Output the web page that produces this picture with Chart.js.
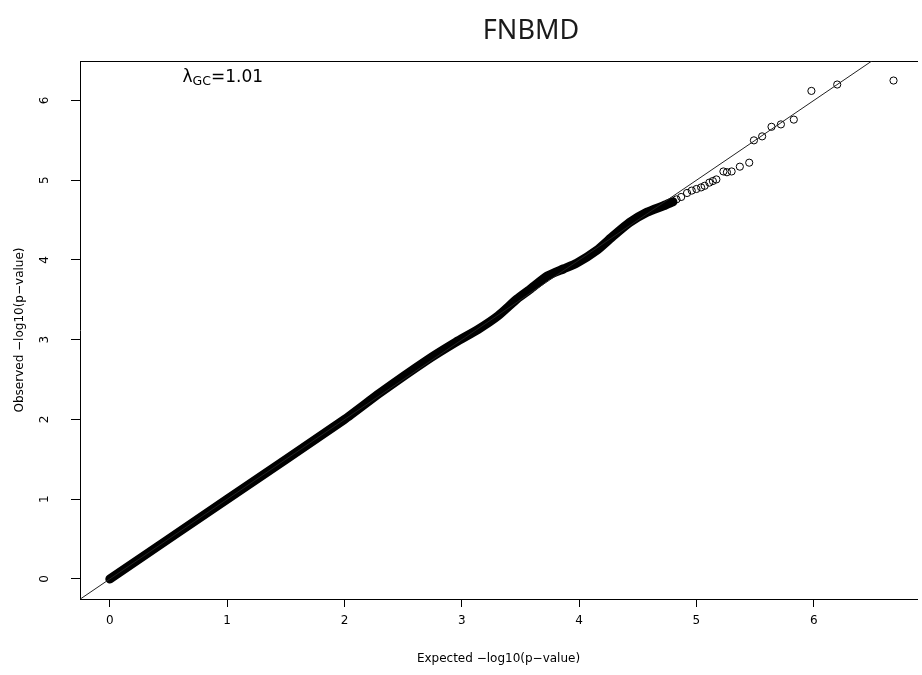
<!DOCTYPE html>
<html>
<head>
<meta charset="utf-8">
<title>FNBMD QQ plot</title>
<script src="https://cdn.jsdelivr.net/npm/chart.js@4.4.1/dist/chart.umd.min.js"></script>
<style>
  html, body { margin: 0; padding: 0; background: #fff; overflow: hidden; }
  #wrap { width: 922px; height: 675px; }
</style>
</head>
<body>
<div id="wrap"><canvas id="chart" width="922" height="675"></canvas></div>
<script>
var chartTitle = 'FNBMD';
var xTitle = 'Expected \u2212log10(p\u2212value)';
var yTitle = 'Observed \u2212log10(p\u2212value)';
var lambdaParts = ['\u03bb', 'GC', '=1.01'];
var xTicks = [0, 1, 2, 3, 4, 5, 6];
var yTicks = [0, 1, 2, 3, 4, 5, 6];

// dense part of the QQ curve (read along the middle of the black band)
var bandExpected = [0, 1, 2, 2.3, 2.7, 2.95, 3.14, 3.31, 3.47, 3.58, 3.73, 3.87, 3.98, 4.15, 4.29, 4.43, 4.58, 4.72, 4.8];
var bandObserved = [0, 1, 2, 2.33, 2.74, 2.97, 3.13, 3.30, 3.51, 3.63, 3.80, 3.89, 3.96, 4.12, 4.30, 4.47, 4.60, 4.68, 4.73];

// single points in the upper tail
var tailExpected = [4.83, 4.87, 4.92, 4.96, 5.0, 5.04, 5.07, 5.11, 5.14, 5.17, 5.23, 5.26, 5.30, 5.37, 5.45, 5.49, 5.56, 5.64, 5.72, 5.83, 5.98, 6.20, 6.68];
var tailObserved = [4.76, 4.79, 4.84, 4.87, 4.89, 4.91, 4.93, 4.97, 4.99, 5.01, 5.11, 5.10, 5.11, 5.17, 5.22, 5.50, 5.55, 5.67, 5.70, 5.76, 6.12, 6.20, 6.25];

// y = x reference line
var refLine = [-0.3, 7];

var axisFont = 'DejaVu Sans';

function toPoints(xs, ys) {
  var pts = [];
  for (var i = 0; i < xs.length; i++) {
    pts.push({ x: xs[i], y: ys[i] });
  }
  return pts;
}

// y tick labels are turned like in R (las = 0), plus title and lambda note
var textPlugin = {
  id: 'rText',
  afterDraw: function(chart) {
    var ctx = chart.ctx;
    var yScale = chart.scales.y;
    var xScale = chart.scales.x;

    ctx.save();
    ctx.fillStyle = '#000';
    ctx.font = '12px "' + axisFont + '"';
    ctx.textAlign = 'center';
    ctx.textBaseline = 'middle';
    for (var i = 0; i < yTicks.length; i++) {
      var py = yScale.getPixelForValue(yTicks[i]);
      ctx.save();
      ctx.translate(45, py);
      ctx.rotate(-Math.PI / 2);
      ctx.fillText(String(yTicks[i]), 0, 0);
      ctx.restore();
    }

    // title
    ctx.fillStyle = '#1a1a1a';
    ctx.font = '27px "Noto Sans"';
    ctx.fillText(chartTitle, 531, 31);

    // lambda GC note
    var lx = xScale.getPixelForValue(0.62);
    var ly = yScale.getPixelForValue(6.23);
    ctx.fillStyle = '#000';
    ctx.textAlign = 'left';
    ctx.textBaseline = 'alphabetic';
    ctx.font = '17px "' + axisFont + '"';
    ctx.fillText(lambdaParts[0], lx, ly);
    lx += ctx.measureText(lambdaParts[0]).width;
    ctx.font = '12.5px "' + axisFont + '"';
    ctx.fillText(lambdaParts[1], lx, ly + 3);
    lx += ctx.measureText(lambdaParts[1]).width;
    ctx.font = '17px "' + axisFont + '"';
    ctx.fillText(lambdaParts[2], lx, ly);
    ctx.restore();
  }
};

document.addEventListener('DOMContentLoaded', function() {
  var ctx = document.getElementById('chart').getContext('2d');

  new Chart(ctx, {
    data: {
      datasets: [{
        type: 'line',
        label: 'y = x',
        data: toPoints(refLine, refLine),
        borderColor: '#222',
        borderWidth: 1,
        pointRadius: 0,
        fill: false
      }, {
        type: 'line',
        label: 'band',
        data: toPoints(bandExpected, bandObserved),
        borderColor: '#000',
        borderWidth: 9,
        borderCapStyle: 'round',
        borderJoinStyle: 'round',
        tension: 0.2,
        pointRadius: 0,
        fill: false
      }, {
        type: 'scatter',
        label: 'tail',
        data: toPoints(tailExpected, tailObserved),
        showLine: false,
        pointStyle: 'circle',
        pointRadius: 3.6,
        pointBorderWidth: 1,
        pointBackgroundColor: 'rgba(0,0,0,0)',
        pointBorderColor: '#000'
      }]
    },
    options: {
      responsive: false,
      animation: false,
      events: [],
      layout: { padding: { top: 61, left: 0, right: 0, bottom: 0 } },
      plugins: {
        legend: { display: false },
        tooltip: { enabled: false },
        title: { display: false }
      },
      scales: {
        x: {
          type: 'linear',
          position: 'bottom',
          min: -0.254,
          max: 6.88,
          afterFit: function(scale) { scale.height = 76; },
          afterBuildTicks: function(scale) {
            scale.ticks = xTicks.map(function(v) { return { value: v }; });
          },
          grid: { display: true, drawOnChartArea: false, drawTicks: true, tickLength: 8, color: '#000', lineWidth: 1 },
          border: { display: true, color: '#000', width: 1 },
          ticks: { color: '#000', font: { family: axisFont, size: 12 }, padding: 7, maxRotation: 0, autoSkip: false },
          title: { display: true, text: xTitle, color: '#000', font: { family: axisFont, size: 12 }, padding: { top: 0, bottom: 9 } }
        },
        xTop: {
          type: 'linear',
          position: 'top',
          min: -0.254,
          max: 6.88,
          afterFit: function(scale) { scale.height = 0; },
          grid: { display: false },
          ticks: { display: false },
          border: { display: true, color: '#000', width: 1 }
        },
        y: {
          type: 'linear',
          position: 'left',
          min: -0.251,
          max: 6.495,
          afterFit: function(scale) { scale.width = 80; },
          afterBuildTicks: function(scale) {
            scale.ticks = yTicks.map(function(v) { return { value: v }; });
          },
          grid: { display: true, drawOnChartArea: false, drawTicks: true, tickLength: 9, color: '#000', lineWidth: 1 },
          border: { display: true, color: '#000', width: 1 },
          ticks: { display: false },
          title: { display: true, text: yTitle, color: '#000', font: { family: axisFont, size: 12 }, padding: { top: 13, bottom: 0 } }
        }
      }
    },
    plugins: [textPlugin]
  });
});
</script>
</body>
</html>
